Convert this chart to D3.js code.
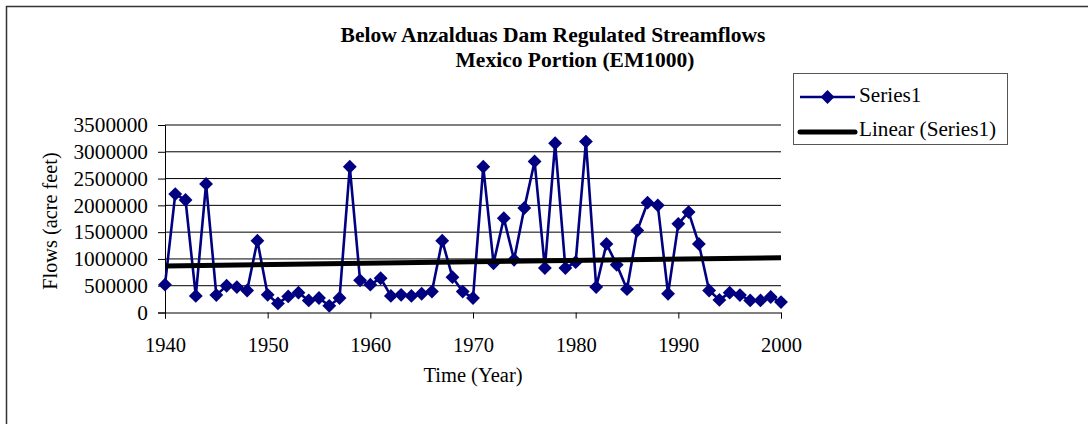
<!DOCTYPE html>
<html>
<head>
<meta charset="utf-8">
<script src="https://cdn.jsdelivr.net/npm/d3@7"></script>
<style>
  html, body { margin: 0; padding: 0; background: #fff; }
  svg { display: block; }
  text { font-family: "Liberation Serif", "Times New Roman", serif; fill: #000; }
</style>
</head>
<body>
<svg id="chart" width="1088" height="424"></svg>
<script>
const years = [1940,1941,1942,1943,1944,1945,1946,1947,1948,1949,
  1950,1951,1952,1953,1954,1955,1956,1957,1958,1959,
  1960,1961,1962,1963,1964,1965,1966,1967,1968,1969,
  1970,1971,1972,1973,1974,1975,1976,1977,1978,1979,
  1980,1981,1982,1983,1984,1985,1986,1987,1988,1989,
  1990,1991,1992,1993,1994,1995,1996,1997,1998,1999,2000];
const flows = [520000,2210000,2100000,310000,2400000,325000,500000,475000,410000,1340000,
  330000,170000,300000,370000,225000,270000,125000,270000,2720000,600000,
  520000,640000,310000,330000,310000,350000,390000,1340000,660000,390000,
  270000,2720000,920000,1760000,985000,1950000,2820000,830000,3160000,830000,
  940000,3190000,475000,1280000,890000,435000,1530000,2050000,2000000,350000,
  1655000,1875000,1280000,410000,235000,370000,325000,225000,225000,290000,195000];
const xTicks = [1940,1950,1960,1970,1980,1990,2000];
const yTicks = [0,500000,1000000,1500000,2000000,2500000,3000000,3500000];
const titleLines = ["Below Anzalduas Dam Regulated Streamflows", "Mexico Portion (EM1000)"];
const seriesNames = ["Series1", "Linear (Series1)"];
const xTitle = "Time (Year)";
const yTitle = "Flows (acre feet)";

const svg = d3.select("#chart");
const data = years.map((y, i) => ({year: y, value: flows[i]}));

// outer frame
svg.append("rect").attr("x", 6.5).attr("y", 6.5).attr("width", 1200).attr("height", 500)
  .attr("fill", "none").attr("stroke", "#333").attr("stroke-width", 1.5);

const x = d3.scaleLinear().domain([1940, 2000]).range([165, 781]);
const y = d3.scaleLinear().domain([0, 3500000]).range([312.5, 125]);

// gridlines
svg.append("g").selectAll("line").data(yTicks.slice(1)).join("line")
  .attr("x1", x(1940)).attr("x2", x(2000))
  .attr("y1", d => y(d)).attr("y2", d => y(d))
  .attr("stroke", "#000").attr("stroke-width", 1);

// y axis
const yAxis = svg.append("g").attr("transform", `translate(${x(1940)},0)`)
  .call(d3.axisLeft(y).tickValues(yTicks).tickFormat(d3.format("d")).tickSize(7).tickPadding(10));
yAxis.select(".domain").attr("stroke", "#000");
yAxis.selectAll(".tick line").attr("stroke", "#000");
yAxis.selectAll(".tick text").attr("font-size", "21.3px").attr("font-family", '"Liberation Serif", serif').attr("fill", "#000");

// x axis
const xAxis = svg.append("g").attr("transform", `translate(0,${y(0)})`)
  .call(d3.axisBottom(x).tickValues(xTicks).tickFormat(d3.format("d")).tickSize(6).tickPadding(19));
xAxis.select(".domain").attr("stroke", "#000");
xAxis.selectAll(".tick line").attr("stroke", "#000");
xAxis.selectAll(".tick text").attr("font-size", "20.5px").attr("font-family", '"Liberation Serif", serif').attr("fill", "#000");

// trend line (least squares)
const n = years.length;
const mx = d3.mean(years), my = d3.mean(flows);
let sxy = 0, sxx = 0;
for (let i = 0; i < n; i++) { sxy += (years[i]-mx)*(flows[i]-my); sxx += (years[i]-mx)**2; }
const slope = sxy / sxx, intercept = my - slope * mx;
const trend = [1940, 2000].map(t => ({year: t, value: intercept + slope * t}));

// series line
const line = d3.line().x(d => x(d.year)).y(d => y(d.value));
svg.append("path").datum(data).attr("d", line)
  .attr("fill", "none").attr("stroke", "#000080").attr("stroke-width", 2.6).attr("stroke-linejoin", "round");

// markers
const diamond = d3.symbol().type(d3.symbolSquare).size(96);
svg.append("g").selectAll("path").data(data).join("path")
  .attr("d", diamond)
  .attr("transform", d => `translate(${x(d.year)},${y(d.value)}) rotate(45)`)
  .attr("fill", "#000080");

svg.append("path").datum(trend).attr("d", line)
  .attr("fill", "none").attr("stroke", "#000").attr("stroke-width", 5);

// title
svg.append("text").attr("x", 553).attr("y", 42).attr("text-anchor", "middle")
  .attr("font-size", "21.5px").attr("font-weight", "bold").text(titleLines[0]);
svg.append("text").attr("x", 575).attr("y", 67).attr("text-anchor", "middle")
  .attr("font-size", "21.5px").attr("font-weight", "bold").text(titleLines[1]);

// axis titles
svg.append("text").attr("x", 473).attr("y", 382).attr("text-anchor", "middle")
  .attr("font-size", "20.5px").text(xTitle);
svg.append("text").attr("transform", "translate(57,221) rotate(-90)").attr("text-anchor", "middle")
  .attr("font-size", "20.3px").text(yTitle);

// legend
const lg = svg.append("g");
lg.append("rect").attr("x", 793.5).attr("y", 73.5).attr("width", 214).attr("height", 71)
  .attr("fill", "#fff").attr("stroke", "#555").attr("stroke-width", 1);
lg.append("line").attr("x1", 800).attr("x2", 855).attr("y1", 97).attr("y2", 97)
  .attr("stroke", "#000080").attr("stroke-width", 2.4);
lg.append("path").attr("d", diamond).attr("transform", "translate(827.5,97) rotate(45)").attr("fill", "#000080");
lg.append("line").attr("x1", 800).attr("x2", 855).attr("y1", 132).attr("y2", 132)
  .attr("stroke", "#000").attr("stroke-width", 5).attr("stroke-linecap", "round");
lg.append("text").attr("x", 859).attr("y", 102).attr("font-size", "21.2px").text(seriesNames[0]);
lg.append("text").attr("x", 859).attr("y", 136).attr("font-size", "21.2px").text(seriesNames[1]);
</script>
</body>
</html>
